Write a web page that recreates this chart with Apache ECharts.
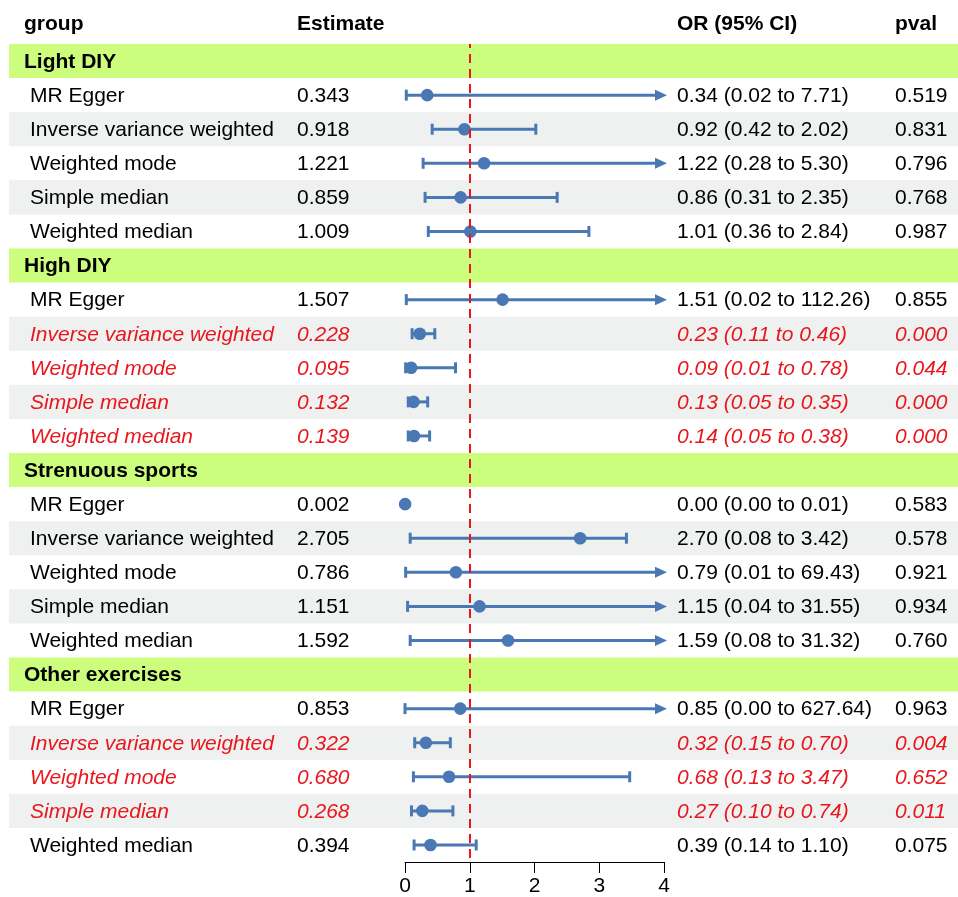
<!DOCTYPE html>
<html><head><meta charset="utf-8">
<script src="https://cdn.jsdelivr.net/npm/echarts@6/dist/echarts.min.js"></script>
<style>html,body{margin:0;padding:0;background:#fff}#c{width:958px;height:897px}</style>
</head><body><div id="c"></div>
<script>
const groups = ['Light DIY', 'High DIY', 'Strenuous sports', 'Other exercises'];
const methods = ['MR Egger', 'Inverse variance weighted', 'Weighted mode', 'Simple median', 'Weighted median'];
const estimate = [0.343, 0.918, 1.221, 0.859, 1.009,
                  1.507, 0.228, 0.095, 0.132, 0.139,
                  0.002, 2.705, 0.786, 1.151, 1.592,
                  0.853, 0.322, 0.680, 0.268, 0.394];
const lower = [0.02, 0.42, 0.28, 0.31, 0.36,
               0.02, 0.11, 0.01, 0.05, 0.05,
               0.00, 0.08, 0.01, 0.04, 0.08,
               0.00, 0.15, 0.13, 0.10, 0.14];
const upper = [7.71, 2.02, 5.30, 2.35, 2.84,
               112.26, 0.46, 0.78, 0.35, 0.38,
               0.01, 3.42, 69.43, 31.55, 31.32,
               627.64, 0.70, 3.47, 0.74, 1.10];
const orLabels = ['0.34 (0.02 to 7.71)', '0.92 (0.42 to 2.02)', '1.22 (0.28 to 5.30)', '0.86 (0.31 to 2.35)', '1.01 (0.36 to 2.84)',
                  '1.51 (0.02 to 112.26)', '0.23 (0.11 to 0.46)', '0.09 (0.01 to 0.78)', '0.13 (0.05 to 0.35)', '0.14 (0.05 to 0.38)',
                  '0.00 (0.00 to 0.01)', '2.70 (0.08 to 3.42)', '0.79 (0.01 to 69.43)', '1.15 (0.04 to 31.55)', '1.59 (0.08 to 31.32)',
                  '0.85 (0.00 to 627.64)', '0.32 (0.15 to 0.70)', '0.68 (0.13 to 3.47)', '0.27 (0.10 to 0.74)', '0.39 (0.14 to 1.10)'];
const pvalLabels = ['0.519', '0.831', '0.796', '0.768', '0.987',
                    '0.855', '0.000', '0.044', '0.000', '0.000',
                    '0.583', '0.578', '0.921', '0.934', '0.760',
                    '0.963', '0.004', '0.652', '0.011', '0.075'];
const highlight = [false, false, false, false, false,
                   false, true, true, true, true,
                   false, false, false, false, false,
                   false, true, true, true, false];
const headers = ['group', 'Estimate', 'OR (95% CI)', 'pval'];
const xTicks = [0, 1, 2, 3, 4];
const refValue = 1;

// build row list
const rows = [];
groups.forEach((g, gi) => {
  rows.push({kind: 'group', label: g});
  methods.forEach((m, mi) => rows.push({kind: 'method', label: m, k: mi, idx: gi * methods.length + mi}));
});

const FONT = 'Liberation Sans, Arial, Helvetica, sans-serif';
const FS = 21;
const BLUE = '#4a78b5';
const RED = '#e8171d';
const X_MIN = xTicks[0], X_MAX = xTicks[xTicks.length - 1];
const COL_GROUP = 24, COL_METHOD = 30, COL_EST = 297, COL_OR = 677, COL_P = 895;

const chart = echarts.init(document.getElementById('c'), null, {renderer: 'canvas'});

function txt(x, y, text, opt) {
  return {
    type: 'text',
    style: Object.assign({
      x: x, y: y + 1, text: text, fill: '#000', fontSize: FS, fontFamily: FONT,
      align: 'left', verticalAlign: 'middle'
    }, opt || {})
  };
}

const option = {
  animation: false,
  backgroundColor: '#fff',
  grid: {left: 405, right: 294, top: 44, bottom: 35, containLabel: false},
  xAxis: {
    type: 'value', min: X_MIN, max: X_MAX, interval: 1,
    axisLine: {show: true, lineStyle: {color: '#000', width: 1}},
    axisTick: {show: true, length: 11, lineStyle: {color: '#000', width: 1}},
    axisLabel: {fontSize: FS, color: '#000', fontFamily: FONT, margin: 14},
    splitLine: {show: false}
  },
  yAxis: {
    type: 'category', inverse: true,
    data: rows.map(r => r.label),
    show: false
  },
  graphic: headers.map((h, i) => ({
    type: 'text', left: [COL_GROUP, COL_EST, COL_OR, COL_P][i], top: 14,
    style: {text: h, fontSize: FS, fontWeight: 'bold', fontFamily: FONT, fill: '#000'}
  })),
  series: [
    {
      type: 'custom', name: 'background', clip: false, z: 1, silent: true,
      data: rows.map((r, i) => [0, i]),
      renderItem: function (params, api) {
        const r = rows[params.dataIndex];
        const y = api.coord([0, params.dataIndex])[1];
        const h = api.size([0, 1])[1];
        let fill = null;
        if (r.kind === 'group') fill = '#cdfd7c';
        else if (r.k === 1 || r.k === 3) fill = '#eef1f0';
        if (!fill) return {type: 'group', children: []};
        return {type: 'rect', shape: {x: 9, y: y - h / 2, width: 958 - 9, height: h}, style: {fill: fill}};
      }
    },
    {
      type: 'custom', name: 'text', clip: false, z: 3, silent: true,
      data: rows.map((r, i) => [0, i]),
      renderItem: function (params, api) {
        const r = rows[params.dataIndex];
        const y = api.coord([0, params.dataIndex])[1];
        if (r.kind === 'group') {
          return txt(COL_GROUP, y, r.label, {fontWeight: 'bold'});
        }
        const red = highlight[r.idx];
        const o = {fill: red ? RED : '#000', fontStyle: red ? 'italic' : 'normal'};
        return {
          type: 'group', children: [
            txt(COL_METHOD, y, r.label, o),
            txt(COL_EST, y, estimate[r.idx].toFixed(3), o),
            txt(COL_OR, y, orLabels[r.idx], o),
            txt(COL_P, y, pvalLabels[r.idx], o)
          ]
        };
      }
    },
    {
      type: 'custom', name: 'ci', clip: false, z: 4, silent: true,
      data: rows.map((r, i) => r.kind === 'method' ? [estimate[r.idx], i] : [null, i]),
      renderItem: function (params, api) {
        const r = rows[params.dataIndex];
        if (r.kind !== 'method') return {type: 'group', children: []};
        const i = r.idx;
        const row = params.dataIndex;
        const y = api.coord([0, row])[1];
        const xl = api.coord([Math.max(lower[i], X_MIN), row])[0];
        const arrow = upper[i] > X_MAX;
        const xh = api.coord([Math.min(upper[i], X_MAX), row])[0];
        const xe = api.coord([estimate[i], row])[0];
        const lw = 3, capH = 5.5;
        const ls = {stroke: BLUE, lineWidth: lw, lineCap: 'butt'};
        const ch = [];
        if (arrow) {
          const tip = xh + 3, base = tip - 12;
          ch.push({type: 'line', shape: {x1: xl, y1: y, x2: base + 1, y2: y}, style: ls});
          ch.push({type: 'polygon', shape: {points: [[base, y - 5.5], [tip, y], [base, y + 5.5]]}, style: {fill: BLUE}});
        } else {
          ch.push({type: 'line', shape: {x1: xl, y1: y, x2: xh, y2: y}, style: ls});
          ch.push({type: 'line', shape: {x1: xh, y1: y - capH, x2: xh, y2: y + capH}, style: ls});
        }
        ch.push({type: 'line', shape: {x1: xl, y1: y - capH, x2: xl, y2: y + capH}, style: ls});
        ch.push({type: 'circle', shape: {cx: xe, cy: y, r: 6.3}, style: {fill: BLUE}});
        return {type: 'group', children: ch};
      },
      markLine: {
        silent: true, symbol: 'none', z: 5,
        label: {show: false},
        lineStyle: {color: RED, type: [9, 6], width: 2, dashOffset: -10},
        data: [{xAxis: refValue}]
      }
    }
  ]
};
chart.setOption(option);
</script>
</body></html>
